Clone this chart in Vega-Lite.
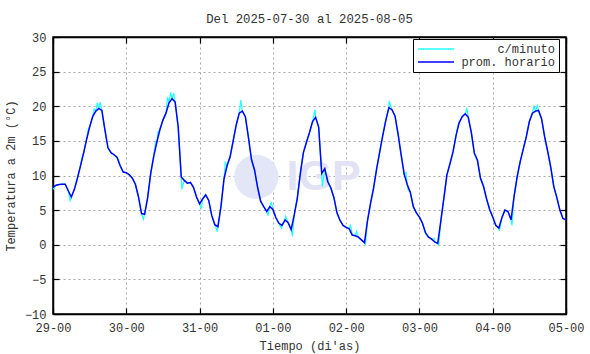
{
  "$schema": "https://vega.github.io/schema/vega-lite/v6.json",
  "width": 513,
  "height": 277,
  "autosize": {"type": "none"},
  "padding": {"left": 53, "top": 37, "right": 24, "bottom": 40},
  "background": "white",
  "title": {"text": "Del 2025-07-30 al 2025-08-05", "font": "Liberation Mono", "fontSize": 12.3, "fontWeight": "normal", "color": "#333", "offset": 6},
  "config": {
    "view": {"stroke": "black", "strokeWidth": 1.5},
    "axis": {"labelFont": "Liberation Mono", "titleFont": "Liberation Mono", "labelFontSize": 12, "titleFontSize": 12, "titleFontWeight": "normal", "labelColor": "#333", "titleColor": "#333", "domainColor": "black", "domainWidth": 1.5, "tickColor": "black", "tickWidth": 1.2, "tickSize": -6, "gridColor": "#a8a8a8", "gridDash": [2, 3], "gridWidth": 1},
    "legend": {"labelFont": "Liberation Mono", "labelFontSize": 12, "labelColor": "#333"}
  },
  "datasets": {
    "horario": [
      {"h":0,"t":8.3},{"h":1,"t":8.6},{"h":2,"t":8.7},{"h":3,"t":8.75},{"h":4,"t":8.75},{"h":5,"t":7.8},{"h":6,"t":6.9},{"h":7,"t":8.0},{"h":8,"t":9.6},{"h":9,"t":11.4},{"h":10,"t":13.2},{"h":11,"t":15.2},{"h":12,"t":17.0},{"h":13,"t":18.5},{"h":14,"t":19.3},{"h":15,"t":19.7},{"h":16,"t":19.4},{"h":17,"t":16.6},{"h":18,"t":14.0},{"h":19,"t":13.3},{"h":20,"t":13.0},{"h":21,"t":12.6},{"h":22,"t":11.4},{"h":23,"t":10.5},
      {"h":24,"t":10.4},{"h":25,"t":10.1},{"h":26,"t":9.6},{"h":27,"t":8.7},{"h":28,"t":6.9},{"h":29,"t":4.5},{"h":30,"t":4.4},{"h":31,"t":6.8},{"h":32,"t":10.3},{"h":33,"t":12.8},{"h":34,"t":14.8},{"h":35,"t":16.6},{"h":36,"t":18.0},{"h":37,"t":19.0},{"h":38,"t":20.5},{"h":39,"t":21.1},{"h":40,"t":20.6},{"h":41,"t":17.0},{"h":42,"t":9.8},{"h":43,"t":9.3},{"h":44,"t":8.9},{"h":45,"t":9.0},{"h":46,"t":8.3},{"h":47,"t":6.9},
      {"h":48,"t":5.9},{"h":49,"t":6.6},{"h":50,"t":7.2},{"h":51,"t":6.4},{"h":52,"t":4.2},{"h":53,"t":2.9},{"h":54,"t":2.6},{"h":55,"t":5.5},{"h":56,"t":9.5},{"h":57,"t":11.4},{"h":58,"t":12.7},{"h":59,"t":15.0},{"h":60,"t":17.3},{"h":61,"t":19.0},{"h":62,"t":19.3},{"h":63,"t":18.5},{"h":64,"t":15.5},{"h":65,"t":12.3},{"h":66,"t":10.8},{"h":67,"t":8.3},{"h":68,"t":6.3},{"h":69,"t":5.5},{"h":70,"t":4.8},{"h":71,"t":5.5},
      {"h":72,"t":5.1},{"h":73,"t":3.9},{"h":74,"t":3.1},{"h":75,"t":2.8},{"h":76,"t":3.6},{"h":77,"t":3.2},{"h":78,"t":2.2},{"h":79,"t":4.3},{"h":80,"t":6.7},{"h":81,"t":10.3},{"h":82,"t":13.3},{"h":83,"t":14.8},{"h":84,"t":16.2},{"h":85,"t":17.8},{"h":86,"t":18.4},{"h":87,"t":17.0},{"h":88,"t":10.3},{"h":89,"t":11.0},{"h":90,"t":9.1},{"h":91,"t":8.2},{"h":92,"t":6.8},{"h":93,"t":4.6},{"h":94,"t":3.5},{"h":95,"t":2.8},
      {"h":96,"t":2.5},{"h":97,"t":2.3},{"h":98,"t":1.4},{"h":99,"t":1.3},{"h":100,"t":1.1},{"h":101,"t":0.7},{"h":102,"t":0.3},{"h":103,"t":3.5},{"h":104,"t":6.0},{"h":105,"t":8.2},{"h":106,"t":11.0},{"h":107,"t":13.4},{"h":108,"t":15.8},{"h":109,"t":18.0},{"h":110,"t":19.8},{"h":111,"t":19.5},{"h":112,"t":18.6},{"h":113,"t":16.0},{"h":114,"t":13.0},{"h":115,"t":10.2},{"h":116,"t":8.7},{"h":117,"t":7.6},{"h":118,"t":5.5},{"h":119,"t":4.6},
      {"h":120,"t":4.0},{"h":121,"t":3.1},{"h":122,"t":1.7},{"h":123,"t":1.1},{"h":124,"t":0.8},{"h":125,"t":0.4},{"h":126,"t":0.2},{"h":127,"t":3.4},{"h":128,"t":6.7},{"h":129,"t":10.1},{"h":130,"t":11.7},{"h":131,"t":13.4},{"h":132,"t":15.8},{"h":133,"t":17.6},{"h":134,"t":18.5},{"h":135,"t":18.9},{"h":136,"t":18.4},{"h":137,"t":16.2},{"h":138,"t":13.2},{"h":139,"t":12.2},{"h":140,"t":9.6},{"h":141,"t":8.4},{"h":142,"t":6.6},{"h":143,"t":5.1},
      {"h":144,"t":4.0},{"h":145,"t":2.8},{"h":146,"t":2.4},{"h":147,"t":3.9},{"h":148,"t":5.0},{"h":149,"t":4.8},{"h":150,"t":3.6},{"h":151,"t":7.0},{"h":152,"t":9.8},{"h":153,"t":12.0},{"h":154,"t":13.8},{"h":155,"t":15.6},{"h":156,"t":17.8},{"h":157,"t":19.0},{"h":158,"t":19.3},{"h":159,"t":19.4},{"h":160,"t":18.2},{"h":161,"t":15.6},{"h":162,"t":13.5},{"h":163,"t":11.2},{"h":164,"t":8.4},{"h":165,"t":6.8},{"h":166,"t":5.0},{"h":167,"t":3.8},{"h":168,"t":3.6}
    ],
    "minuto": [
      {"h":0,"t":8.0},{"h":1,"t":8.6},{"h":2,"t":8.7},{"h":3,"t":8.75},{"h":4,"t":8.75},{"h":5,"t":7.8},{"h":5.6,"t":6.4},{"h":6,"t":6.9},{"h":7,"t":8.0},{"h":8,"t":9.6},{"h":9,"t":11.4},{"h":9.5,"t":12.6},{"h":10,"t":13.2},{"h":11,"t":15.2},{"h":11.5,"t":16.6},{"h":12,"t":17.0},{"h":13,"t":18.5},{"h":13.5,"t":19.6},{"h":14,"t":19.3},{"h":14.5,"t":20.5},{"h":15,"t":19.7},{"h":15.5,"t":20.6},{"h":16,"t":19.4},{"h":17,"t":16.6},{"h":18,"t":14.0},{"h":19,"t":13.3},{"h":20,"t":13.0},{"h":21,"t":12.6},{"h":22,"t":11.4},{"h":23,"t":10.5},
      {"h":24,"t":10.4},{"h":25,"t":10.1},{"h":26,"t":9.6},{"h":27,"t":8.7},{"h":28,"t":6.9},{"h":29,"t":4.5},{"h":29.6,"t":3.7},{"h":30,"t":4.4},{"h":31,"t":6.8},{"h":32,"t":10.3},{"h":33,"t":12.8},{"h":33.6,"t":14.9},{"h":34,"t":14.8},{"h":34.4,"t":16.3},{"h":35,"t":16.6},{"h":36,"t":18.0},{"h":37,"t":19.0},{"h":37.5,"t":21.3},{"h":38,"t":20.5},{"h":38.5,"t":22.0},{"h":39,"t":21.1},{"h":39.5,"t":21.9},{"h":40,"t":20.6},{"h":41,"t":17.0},{"h":42,"t":9.8},{"h":42.2,"t":8.0},{"h":43,"t":9.3},{"h":44,"t":8.9},{"h":45,"t":9.0},{"h":46,"t":8.3},{"h":47,"t":6.9},
      {"h":48,"t":5.9},{"h":48.6,"t":5.2},{"h":49,"t":6.6},{"h":50,"t":7.2},{"h":51,"t":6.4},{"h":52,"t":4.2},{"h":53,"t":2.9},{"h":53.8,"t":1.9},{"h":54,"t":2.6},{"h":55,"t":5.5},{"h":56,"t":9.5},{"h":56.4,"t":11.9},{"h":57,"t":11.4},{"h":58,"t":12.7},{"h":59,"t":15.0},{"h":60,"t":17.3},{"h":61,"t":19.0},{"h":61.5,"t":20.9},{"h":62,"t":19.3},{"h":63,"t":18.5},{"h":64,"t":15.5},{"h":65,"t":12.3},{"h":66,"t":10.8},{"h":67,"t":8.3},{"h":68,"t":6.3},{"h":69,"t":5.5},{"h":70,"t":4.8},{"h":70.4,"t":4.2},{"h":71,"t":5.5},{"h":71.5,"t":6.2},
      {"h":72,"t":5.1},{"h":73,"t":3.9},{"h":74,"t":3.1},{"h":74.8,"t":2.4},{"h":75,"t":2.8},{"h":76,"t":3.6},{"h":76.2,"t":4.1},{"h":77,"t":3.2},{"h":78,"t":2.2},{"h":78.4,"t":1.2},{"h":79,"t":4.3},{"h":80,"t":6.7},{"h":81,"t":10.3},{"h":81.5,"t":11.9},{"h":82,"t":13.3},{"h":83,"t":14.8},{"h":84,"t":16.2},{"h":85,"t":17.8},{"h":85.8,"t":19.5},{"h":86,"t":18.4},{"h":87,"t":17.0},{"h":88,"t":10.3},{"h":88.2,"t":8.4},{"h":89,"t":11.0},{"h":90,"t":9.1},{"h":91,"t":8.2},{"h":92,"t":6.8},{"h":93,"t":4.6},{"h":94,"t":3.5},{"h":95,"t":2.8},
      {"h":96,"t":2.5},{"h":97,"t":2.3},{"h":97.4,"t":2.9},{"h":98,"t":1.4},{"h":99,"t":1.3},{"h":99.4,"t":1.9},{"h":100,"t":1.1},{"h":101,"t":0.7},{"h":102,"t":0.3},{"h":102.3,"t":0.0},{"h":103,"t":3.5},{"h":104,"t":6.0},{"h":105,"t":8.2},{"h":106,"t":11.0},{"h":107,"t":13.4},{"h":108,"t":15.8},{"h":109,"t":18.0},{"h":110,"t":19.8},{"h":110.1,"t":20.8},{"h":111,"t":19.5},{"h":112,"t":18.6},{"h":113,"t":16.0},{"h":114,"t":13.0},{"h":115,"t":10.2},{"h":115.6,"t":10.4},{"h":116,"t":8.7},{"h":116.3,"t":7.9},{"h":117,"t":7.6},{"h":118,"t":5.5},{"h":119,"t":4.6},
      {"h":120,"t":4.0},{"h":121,"t":3.1},{"h":122,"t":1.7},{"h":123,"t":1.1},{"h":124,"t":0.8},{"h":124.8,"t":0.9},{"h":125,"t":0.4},{"h":126,"t":0.2},{"h":126.3,"t":-0.1},{"h":127,"t":3.4},{"h":128,"t":6.7},{"h":129,"t":10.1},{"h":130,"t":11.7},{"h":131,"t":13.4},{"h":132,"t":15.8},{"h":132.6,"t":17.2},{"h":133,"t":17.6},{"h":134,"t":18.5},{"h":135,"t":18.9},{"h":135.5,"t":19.8},{"h":136,"t":18.4},{"h":137,"t":16.2},{"h":138,"t":13.2},{"h":139,"t":12.2},{"h":140,"t":9.6},{"h":141,"t":8.4},{"h":142,"t":6.6},{"h":143,"t":5.1},
      {"h":144,"t":4.0},{"h":145,"t":2.8},{"h":146,"t":2.4},{"h":146.2,"t":2.0},{"h":147,"t":3.9},{"h":148,"t":5.0},{"h":149,"t":4.8},{"h":150,"t":3.6},{"h":150.3,"t":2.8},{"h":151,"t":7.0},{"h":152,"t":9.8},{"h":153,"t":12.0},{"h":154,"t":13.8},{"h":155,"t":15.6},{"h":156,"t":17.8},{"h":157,"t":19.0},{"h":157.5,"t":20.0},{"h":158,"t":19.3},{"h":158.6,"t":20.1},{"h":159,"t":19.4},{"h":160,"t":18.2},{"h":161,"t":15.6},{"h":162,"t":13.5},{"h":163,"t":11.2},{"h":164,"t":8.4},{"h":165,"t":6.8},{"h":166,"t":5.0},{"h":167,"t":3.8},{"h":168,"t":3.6}
    ]
  },
  "resolve": {"axis": {"x": "independent", "y": "independent"}},
  "layer": [
    {
      "data": {"values": [{}]},
      "mark": {"type": "point", "filled": true, "size": 1960, "color": "#e2e6f7", "opacity": 1, "strokeWidth": 0},
      "encoding": {
        "x": {"datum": 66.6, "type": "quantitative", "scale": {"domain": [0, 168], "nice": false, "zero": false},
              "axis": {"orient": "bottom", "values": [0,24,48,72,96,120,144,168], "labelExpr": "['29-00','30-00','31-00','01-00','02-00','03-00','04-00','05-00'][round(datum.value/24)]", "title": "Tiempo (di'as)", "labelPadding": 14, "titlePadding": 7, "grid": true, "labelFlush": false}},
        "y": {"datum": 9.8, "type": "quantitative", "scale": {"domain": [-10, 30], "nice": false},
              "axis": {"orient": "left", "values": [-10,-5,0,5,10,15,20,25,30], "title": "Temperatura a 2m (°C)", "labelPadding": 13, "titlePadding": 7, "grid": true}}
      }
    },
    {
      "data": {"values": [{}]},
      "mark": {"type": "text", "text": "IGP", "font": "Liberation Sans", "fontWeight": "bold", "fontSize": 43, "color": "#e2e2f4", "baseline": "middle", "align": "center"},
      "encoding": {
        "x": {"datum": 88.6, "type": "quantitative", "axis": null},
        "y": {"datum": 9.85, "type": "quantitative", "axis": null}
      }
    },
    {
      "data": {"name": "minuto"},
      "mark": {"type": "line", "strokeWidth": 1.2, "interpolate": "linear"},
      "encoding": {
        "x": {"field": "h", "type": "quantitative",
              "axis": {"orient": "top", "values": [0,24,48,72,96,120,144,168], "labels": false, "title": null, "grid": false}},
        "y": {"field": "t", "type": "quantitative",
              "axis": {"orient": "right", "values": [-10,-5,0,5,10,15,20,25,30], "labels": false, "title": null, "grid": false}},
        "color": {"datum": "c/minuto", "type": "nominal",
                  "scale": {"domain": ["c/minuto", "prom. horario"], "range": ["#22ffff", "#0000ff"]},
                  "legend": {"title": null, "orient": "none", "legendX": 360, "legendY": 2, "symbolType": "stroke", "symbolSize": 1296, "symbolStrokeWidth": 1.5, "clipHeight": 12, "strokeColor": "black", "fillColor": "white", "padding": 4, "rowPadding": 1, "labelAlign": "right", "labelOffset": 100, "symbolOffset": 0}}
      }
    },
    {
      "data": {"name": "horario"},
      "mark": {"type": "line", "strokeWidth": 1.5},
      "encoding": {
        "x": {"field": "h", "type": "quantitative", "axis": null},
        "y": {"field": "t", "type": "quantitative", "axis": null},
        "color": {"datum": "prom. horario", "type": "nominal"}
      }
    }
  ]
}
